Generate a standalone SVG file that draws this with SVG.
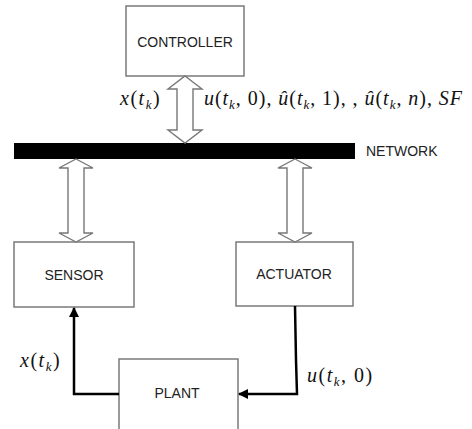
<svg xmlns="http://www.w3.org/2000/svg" width="472" height="429" viewBox="0 0 472 429">
<defs>
<style>
.box{fill:#fff;stroke:#7a7a7a;stroke-width:1.5}
.lbl{font-family:"Liberation Sans",Arial,sans-serif;font-size:14px;fill:#222;text-anchor:middle}
.dbl{fill:#fff;stroke:#777;stroke-width:1.4;stroke-linejoin:miter}
.wire{fill:none;stroke:#000;stroke-width:2.5}
.math{font-family:'Liberation Serif','Times New Roman',serif;font-size:20px;fill:#111}
.sp{letter-spacing:1.5px}
.it{font-style:italic}
.sub{font-size:13px;font-style:italic}
</style>
<marker id="ah" viewBox="0 0 10 10" refX="9" refY="5" markerWidth="4" markerHeight="4" orient="auto">
<path d="M0,0 L10,5 L0,10 z" fill="#000"/>
</marker>
</defs>
<rect width="472" height="429" fill="#fff"/>

<g id="controller">
<rect class="box" x="126" y="6" width="118" height="70"/>
<text class="lbl" x="185" y="47">CONTROLLER</text>
</g>
<g id="network">
<rect x="14" y="143" width="341" height="16" fill="#000"/>
<text class="lbl" x="366" y="156" style="text-anchor:start">NETWORK</text>
</g>
<g id="sensor">
<rect class="box" x="14" y="242" width="120" height="65"/>
<text class="lbl" x="74" y="280">SENSOR</text>
</g>
<g id="actuator">
<rect class="box" x="236" y="242" width="117" height="64"/>
<text class="lbl" x="294" y="279">ACTUATOR</text>
</g>
<g id="plant">
<rect class="box" x="119" y="359" width="119" height="75"/>
<text class="lbl" x="177" y="398">PLANT</text>
</g>

<g id="connectors">
<polygon class="dbl" points="185,76 202,89 193,89 193,130 202,130 185,143 168,130 177,130 177,89 168,89"/>
<polygon class="dbl" points="76,159 93,168 84,168 84,233 93,233 76,242 59,233 68,233 68,168 59,168"/>
<polygon class="dbl" points="295,159 312,168 303,168 303,233 312,233 295,242 278,233 287,233 287,168 278,168"/>
<path class="wire" d="M119,394 H74 V308" marker-end="url(#ah)"/>
<path class="wire" d="M295,306 L296,360 L297,394 H239" marker-end="url(#ah)"/>
</g>

<g id="labels" font-family="Liberation Serif, serif">
<text class="math sp" x="120" y="105"><tspan class="it">x</tspan>(<tspan class="it">t</tspan><tspan class="sub" dy="4">k</tspan><tspan dy="-4">)</tspan></text>
<text class="math" x="204" y="105" textLength="258" lengthAdjust="spacing"><tspan class="it">u</tspan>(<tspan class="it">t</tspan><tspan class="sub" dy="4">k</tspan><tspan dy="-4">, 0), </tspan><tspan class="it">û</tspan>(<tspan class="it">t</tspan><tspan class="sub" dy="4">k</tspan><tspan dy="-4">, 1), , </tspan><tspan class="it">û</tspan>(<tspan class="it">t</tspan><tspan class="sub" dy="4">k</tspan><tspan dy="-4">, </tspan><tspan class="it">n</tspan>), <tspan class="it">SF</tspan></text>
<text class="math sp" x="20" y="367"><tspan class="it">x</tspan>(<tspan class="it">t</tspan><tspan class="sub" dy="4">k</tspan><tspan dy="-4">)</tspan></text>
<text class="math sp" x="307" y="382"><tspan class="it">u</tspan>(<tspan class="it">t</tspan><tspan class="sub" dy="4">k</tspan><tspan dy="-4">, 0)</tspan></text>
</g>
</svg>
